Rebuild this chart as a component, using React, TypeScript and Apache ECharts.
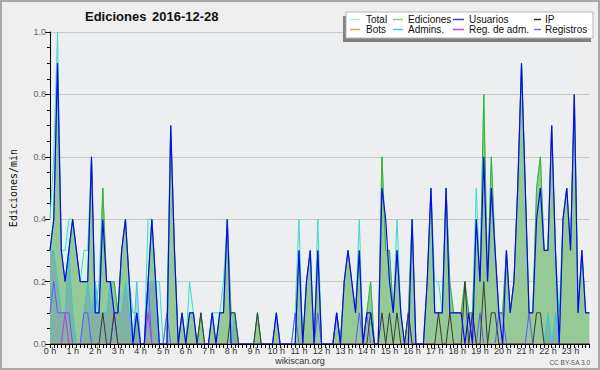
import React, { useEffect, useRef } from "react";
import * as echarts from "echarts";

const titleMain = "Ediciones";
const titleDate = "2016-12-28";
const yName = "Ediciones/min";
const siteLabel = "wikiscan.org";
const licenseLabel = "CC BY-SA 3.0";

const hourLabels = [
  "0 h", "1 h", "2 h", "3 h", "4 h", "5 h", "6 h", "7 h", "8 h", "9 h", "10 h", "11 h",
  "12 h", "13 h", "14 h", "15 h", "16 h", "17 h", "18 h", "19 h", "20 h", "21 h", "22 h", "23 h",
];
const slotMinutes = ["00", "10", "20", "30", "40", "50"];

const seriesNames = ["Total", "Ediciones", "Usuarios", "IP", "Bots", "Admins.", "Reg. de adm.", "Registros"];

// 10-minute buckets, edits per minute
const total = [
  0.4, 0.6, 1.0, 0.3, 0.3, 0.4, 0.4, 0.3, 0.2, 0.3, 0.3, 0.6,
  0.1, 0.2, 0.5, 0.2, 0.2, 0.2, 0.1, 0.3, 0.4, 0.2, 0.1, 0.1,
  0, 0, 0.4, 0.4, 0.2, 0.2, 0, 0.1, 0.7, 0.3, 0, 0.1,
  0, 0.2, 0.1, 0, 0.1, 0, 0, 0.1, 0.1, 0.1, 0.2, 0.4,
  0.1, 0.1, 0, 0, 0, 0, 0, 0.1, 0, 0, 0, 0,
  0.1, 0, 0, 0, 0, 0.1, 0.4, 0, 0.2, 0.3, 0, 0.4,
  0, 0, 0, 0, 0.1, 0, 0.2, 0.3, 0.2, 0.1, 0.4, 0,
  0.1, 0.2, 0, 0, 0.6, 0.3, 0.3, 0.1, 0.4, 0.1, 0, 0.1,
  0.4, 0, 0, 0, 0.2, 0.5, 0.2, 0.2, 0.1, 0.5, 0.2, 0.1,
  0.1, 0.1, 0.2, 0.1, 0.1, 0.5, 0.2, 0.8, 0.2, 0.6, 0.3, 0.1,
  0.1, 0.3, 0.1, 0.2, 0.5, 0.9, 0.5, 0.1, 0.1, 0.5, 0.6, 0.3,
  0.3, 0.7, 0.3, 0.1, 0.4, 0.5, 0.3, 0.8, 0.1, 0.3, 0.1, 0.1,
];

const ediciones = [
  0.3, 0.4, 0.9, 0.3, 0.2, 0.3, 0.4, 0.3, 0.2, 0.2, 0.2, 0.6,
  0.1, 0.1, 0.5, 0.2, 0.2, 0.2, 0.1, 0.3, 0.4, 0.2, 0, 0.1,
  0, 0, 0.2, 0.4, 0.2, 0, 0, 0, 0.7, 0.3, 0, 0.1,
  0, 0.1, 0.1, 0, 0.1, 0, 0, 0.1, 0, 0.1, 0.1, 0.4,
  0.1, 0.1, 0, 0, 0, 0, 0, 0.1, 0, 0, 0, 0,
  0.1, 0, 0, 0, 0, 0, 0.3, 0, 0.2, 0.3, 0, 0.3,
  0, 0, 0, 0, 0.1, 0, 0.2, 0.3, 0.2, 0.1, 0.3, 0,
  0.1, 0.2, 0, 0, 0.6, 0.3, 0.3, 0.1, 0.3, 0.1, 0, 0.1,
  0.4, 0, 0, 0, 0.2, 0.5, 0.1, 0.1, 0.1, 0.5, 0.2, 0.1,
  0.1, 0.1, 0.2, 0.1, 0.1, 0.4, 0.2, 0.8, 0.2, 0.6, 0.3, 0.1,
  0.1, 0.3, 0.1, 0.2, 0.5, 0.9, 0.5, 0.1, 0.1, 0.5, 0.6, 0.3,
  0.3, 0.7, 0.3, 0, 0.4, 0.5, 0.3, 0.8, 0.1, 0.3, 0.1, 0.1,
];

const usuarios = [
  0.3, 0.4, 0.9, 0.3, 0.2, 0.3, 0.4, 0.3, 0.2, 0.2, 0.2, 0.6,
  0.1, 0.1, 0.4, 0.2, 0.2, 0.1, 0.1, 0.3, 0.4, 0.2, 0, 0.1,
  0, 0, 0.2, 0.4, 0.2, 0, 0, 0, 0.7, 0.3, 0, 0.1,
  0, 0.1, 0.1, 0, 0, 0, 0, 0.1, 0, 0.1, 0.1, 0.4,
  0, 0, 0, 0, 0, 0, 0, 0, 0, 0, 0, 0,
  0.1, 0, 0, 0, 0, 0, 0.3, 0, 0.2, 0.3, 0, 0.3,
  0, 0, 0, 0, 0.1, 0, 0.2, 0.3, 0.2, 0.1, 0.3, 0,
  0.1, 0.1, 0, 0, 0.5, 0.4, 0.2, 0.1, 0.3, 0.1, 0, 0,
  0.4, 0, 0, 0, 0.2, 0.5, 0.1, 0.1, 0.1, 0.5, 0.1, 0.1,
  0.1, 0.1, 0, 0.1, 0, 0.4, 0.2, 0.6, 0.2, 0.5, 0.3, 0.1,
  0, 0.3, 0.1, 0.2, 0.5, 0.9, 0.5, 0.1, 0.1, 0.4, 0.5, 0.3,
  0.3, 0.7, 0.3, 0, 0.4, 0.5, 0.3, 0.8, 0.1, 0.3, 0.1, 0.1,
];

const ip = [
  0, 0, 0, 0, 0, 0, 0, 0, 0, 0, 0, 0,
  0, 0, 0.1, 0, 0, 0.1, 0, 0, 0, 0, 0, 0,
  0, 0, 0, 0, 0, 0, 0, 0, 0, 0, 0, 0,
  0, 0, 0, 0, 0.1, 0, 0, 0, 0, 0, 0, 0,
  0.1, 0.1, 0, 0, 0, 0, 0, 0.1, 0, 0, 0, 0,
  0, 0, 0, 0, 0, 0, 0, 0, 0, 0, 0, 0,
  0, 0, 0, 0, 0, 0, 0, 0, 0, 0, 0, 0,
  0, 0.1, 0, 0, 0.1, 0, 0.1, 0, 0.1, 0, 0, 0.1,
  0, 0, 0, 0, 0, 0, 0, 0.1, 0, 0, 0.1, 0,
  0, 0, 0.2, 0, 0.1, 0, 0, 0.2, 0, 0.1, 0.1, 0,
  0, 0, 0, 0, 0, 0, 0, 0, 0, 0.1, 0.1, 0,
  0, 0, 0, 0, 0, 0, 0, 0, 0, 0, 0, 0,
];

const bots = [
  0, 0, 0, 0, 0, 0, 0, 0, 0, 0, 0, 0,
  0, 0, 0, 0, 0, 0, 0, 0, 0, 0, 0, 0,
  0, 0, 0, 0, 0, 0, 0, 0, 0, 0, 0, 0,
  0, 0, 0, 0, 0, 0, 0, 0, 0, 0, 0, 0,
  0, 0, 0, 0, 0, 0, 0, 0, 0, 0, 0, 0,
  0, 0, 0, 0, 0, 0, 0, 0, 0, 0, 0, 0,
  0, 0, 0, 0, 0, 0, 0, 0, 0, 0, 0, 0,
  0, 0, 0, 0, 0, 0, 0, 0, 0, 0, 0, 0,
  0, 0, 0, 0, 0, 0, 0, 0, 0, 0, 0, 0,
  0, 0, 0, 0, 0, 0, 0, 0, 0, 0, 0, 0,
  0, 0, 0, 0, 0, 0, 0, 0, 0, 0, 0, 0,
  0, 0, 0, 0, 0, 0, 0, 0, 0, 0, 0, 0,
];

const admins = [
  0.3, 0.3, 0.2, 0.1, 0.1, 0.3, 0.1, 0, 0, 0.1, 0.2, 0.1,
  0.2, 0.1, 0.1, 0.1, 0.2, 0.1, 0.1, 0.1, 0.2, 0.1, 0, 0.2,
  0, 0, 0.2, 0.2, 0.2, 0, 0, 0, 0, 0, 0, 0,
  0, 0, 0, 0, 0, 0, 0, 0, 0, 0, 0, 0,
  0, 0.1, 0, 0, 0, 0, 0, 0, 0, 0, 0, 0,
  0, 0, 0, 0, 0, 0, 0, 0, 0, 0, 0, 0,
  0, 0, 0, 0, 0, 0, 0, 0, 0, 0, 0, 0,
  0, 0, 0, 0, 0, 0, 0, 0, 0, 0, 0, 0,
  0, 0, 0, 0, 0, 0, 0, 0, 0, 0, 0, 0,
  0, 0, 0, 0, 0, 0, 0, 0, 0, 0, 0, 0,
  0, 0, 0, 0, 0, 0, 0, 0, 0, 0, 0, 0,
  0.1, 0, 0.1, 0, 0, 0, 0, 0, 0, 0, 0, 0,
];

const regAdm = [
  0, 0, 0, 0, 0.1, 0, 0, 0, 0, 0, 0, 0,
  0, 0, 0, 0, 0, 0, 0, 0, 0, 0, 0, 0,
  0, 0, 0.1, 0, 0, 0, 0, 0, 0, 0, 0, 0,
  0, 0, 0, 0, 0, 0, 0, 0, 0, 0, 0, 0,
  0, 0, 0, 0, 0, 0, 0, 0, 0, 0, 0, 0,
  0, 0, 0, 0, 0, 0, 0, 0, 0, 0, 0, 0,
  0, 0, 0, 0, 0, 0, 0, 0, 0, 0, 0, 0,
  0, 0, 0, 0, 0, 0, 0, 0, 0, 0, 0, 0,
  0, 0, 0, 0, 0, 0, 0, 0, 0, 0, 0, 0,
  0, 0, 0, 0, 0, 0, 0, 0, 0, 0, 0, 0,
  0, 0, 0, 0, 0, 0, 0, 0, 0, 0, 0, 0,
  0, 0, 0, 0, 0, 0, 0, 0, 0, 0, 0, 0,
];

const registros = [
  0.1, 0.2, 0.1, 0.1, 0.1, 0.1, 0, 0, 0, 0.1, 0.1, 0,
  0, 0, 0, 0, 0, 0.1, 0, 0, 0, 0, 0, 0,
  0, 0, 0.2, 0, 0, 0, 0, 0.1, 0, 0, 0, 0,
  0, 0, 0, 0, 0, 0, 0, 0, 0, 0, 0, 0,
  0, 0, 0, 0, 0, 0, 0, 0, 0, 0, 0, 0,
  0, 0, 0, 0, 0, 0.1, 0, 0, 0, 0, 0, 0.1,
  0, 0, 0, 0, 0.1, 0, 0, 0, 0, 0, 0.1, 0,
  0.1, 0, 0, 0, 0, 0, 0, 0, 0, 0, 0, 0.1,
  0, 0, 0, 0, 0, 0, 0, 0, 0, 0, 0, 0,
  0, 0, 0, 0, 0.1, 0, 0.1, 0, 0, 0, 0, 0.1,
  0.1, 0, 0, 0, 0, 0, 0, 0.1, 0, 0, 0, 0,
  0, 0, 0, 0, 0, 0, 0, 0, 0, 0, 0, 0,
];

const lineColors = ["#40d8cc", "#33b533", "#0a0aee", "#3a3a3a", "#ff9a30", "#38c8d8", "#c03cd8", "#5b5bff"];
const legendColors = ["#a8e8e2", "#80d080", "#3c3ce0", "#303030", "#f0a040", "#40c8e0", "#d040e0", "#7070e0"];

const FONT = '"Liberation Sans", Arial, sans-serif';

export default function App() {
  const ref = useRef<HTMLDivElement>(null);

  useEffect(() => {
    document.body.style.margin = "0";
    const el = ref.current;
    if (!el) return;
    const chart = echarts.init(el, null, { renderer: "svg" });

    const slots: string[] = [];
    hourLabels.forEach((h) => slotMinutes.forEach((m) => slots.push(h + m)));

    const mk = (idx: number, data: number[], width: number, z: number, area?: any) => ({
      type: "line",
      name: seriesNames[idx],
      data,
      symbol: "none",
      showSymbol: false,
      silent: true,
      z,
      lineStyle: { color: lineColors[idx], width },
      itemStyle: { color: lineColors[idx] },
      ...(area ? { areaStyle: area } : {}),
    });

    const colX = [
      [350, 360, 366],
      [393, 403, 408],
      [453, 464, 469],
      [534, 541, 545],
    ];
    const rowY = [19, 29];
    const legendEls: any[] = [
      { type: "rect", shape: { x: 343, y: 16, width: 248, height: 26 }, style: { fill: "#808080" }, z: 100 },
      { type: "rect", shape: { x: 346, y: 12, width: 247, height: 26 }, style: { fill: "#ffffff", stroke: "#b4b4b4", lineWidth: 1 }, z: 101 },
    ];
    seriesNames.forEach((n, i) => {
      const r = Math.floor(i / 4);
      const c = i % 4;
      const [x1, x2, tx] = colX[c];
      legendEls.push({
        type: "line",
        shape: { x1, y1: rowY[r] + 0.5, x2, y2: rowY[r] + 0.5 },
        style: { stroke: legendColors[i], lineWidth: 1.5 },
        z: 102,
      });
      legendEls.push({
        type: "text",
        x: tx,
        y: rowY[r],
        style: { text: n, fill: "#111", font: `10px ${FONT}`, textAlign: "left", textVerticalAlign: "middle" },
        z: 102,
      });
    });

    const option: any = {
      animation: false,
      backgroundColor: "#efefef",
      grid: {
        left: 46,
        top: 32,
        width: 543.4,
        height: 312,
        show: true,
        backgroundColor: "#eceef0",
        borderWidth: 0,
      },
      xAxis: {
        type: "category",
        data: slots,
        boundaryGap: false,
        z: 10,
        axisLine: { show: true, lineStyle: { color: "#000", width: 1 } },
        axisTick: { show: true, interval: 0, length: 4, lineStyle: { color: "#000" } },
        axisLabel: {
          interval: (i: number) => i % 6 === 0,
          formatter: (_v: string, i: number) => (i % 6 === 0 ? hourLabels[i / 6] : ""),
          margin: 2,
          fontSize: 9,
          fontFamily: FONT,
          color: "#333",
        },
        splitLine: { show: false },
      },
      yAxis: {
        type: "value",
        min: 0,
        max: 1,
        interval: 0.2,
        name: yName,
        nameLocation: "middle",
        nameGap: 32,
        nameRotate: 90,
        nameTextStyle: { fontFamily: '"DejaVu Sans Mono", monospace', fontSize: 10, color: "#111" },
        axisLine: { show: true, lineStyle: { color: "#000", width: 1 } },
        axisTick: { show: true, length: 5, lineStyle: { color: "#000" } },
        minorTick: { show: true, splitNumber: 4, length: 3, lineStyle: { color: "#000" } },
        splitLine: { show: true, lineStyle: { color: "#c8c8c8", width: 1 } },
        axisLabel: {
          formatter: (v: number) => v.toFixed(1),
          margin: 4,
          fontSize: 9,
          fontFamily: FONT,
          color: "#666",
        },
      },
      series: [
        mk(0, total, 1, 1, { color: "#daf3ef", opacity: 1 }),
        mk(1, ediciones, 1, 2, { color: "#95c995", opacity: 1 }),
        mk(5, admins, 1, 3, { color: "rgba(80,120,200,0.28)", opacity: 1 }),
        mk(7, registros, 1, 4),
        mk(6, regAdm, 1, 5),
        mk(4, bots, 1, 5),
        mk(3, ip, 1, 6),
        mk(2, usuarios, 1.2, 7),
      ],
      graphic: {
        elements: [
          {
            type: "text",
            x: 85,
            y: 16,
            style: { text: titleMain, fill: "#111", font: `bold 13px ${FONT}`, textAlign: "left", textVerticalAlign: "middle" },
            z: 50,
          },
          {
            type: "text",
            x: 152,
            y: 16,
            style: { text: titleDate, fill: "#111", font: `bold 13px ${FONT}`, textAlign: "left", textVerticalAlign: "middle" },
            z: 50,
          },
          {
            type: "text",
            x: 300,
            y: 361,
            style: { text: siteLabel, fill: "#333", font: `9px ${FONT}`, textAlign: "center", textVerticalAlign: "middle" },
            z: 50,
          },
          {
            type: "text",
            x: 590,
            y: 362,
            style: { text: licenseLabel, fill: "#555", font: `6.5px ${FONT}`, textAlign: "right", textVerticalAlign: "middle" },
            z: 50,
          },
          ...legendEls,
          {
            type: "rect",
            shape: { x: 1, y: 1, width: 598, height: 368 },
            style: { fill: "none", stroke: "#a8a8a8", lineWidth: 2 },
            z: 200,
          },
        ],
      },
    };

    chart.setOption(option);
    return () => chart.dispose();
  }, []);

  return <div ref={ref} style={{ position: "absolute", left: 0, top: 0, width: 600, height: 370 }} />;
}
